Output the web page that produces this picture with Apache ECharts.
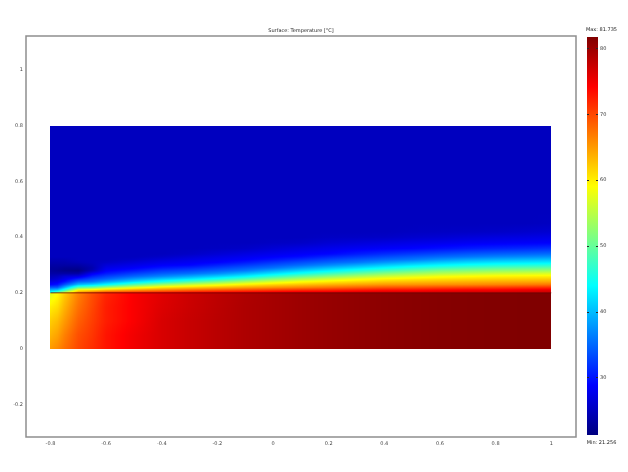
<!DOCTYPE html>
<html>
<head>
<meta charset="utf-8">
<script src="https://cdn.jsdelivr.net/npm/echarts@6/dist/echarts.min.js"></script>
<style>html,body{margin:0;padding:0;background:#fff}#c{width:628px;height:472px}</style>
</head>
<body>
<div id="c"></div>
<script>
// ---- data ----
const chartTitle = 'Surface: Temperature [°C]';
const tMin = 21.256, tMax = 81.735;
const xTicks = [-0.8, -0.6, -0.4, -0.2, 0, 0.2, 0.4, 0.6, 0.8, 1];
const yTicks = [-0.2, 0, 0.2, 0.4, 0.6, 0.8, 1];
const cbTicks = [30, 40, 50, 60, 70, 80];
const interfaceLine = [[-0.8, 0.2], [1, 0.2]];

// sample columns (x positions)
const colX = [-0.8, -0.775, -0.75, -0.7, -0.65, -0.6, -0.5, -0.4, -0.3, -0.2, -0.1, 0, 0.1, 0.2, 0.3, 0.4, 0.5, 0.6, 0.7, 0.8, 0.9, 1.0];

// lower (solid) region, sample heights and temperatures per column
const bottomY = [0, 0.05, 0.1, 0.15, 0.2];
const bottomTemps = [
  [65, 63.5, 62, 60, 57],
  [66, 64.5, 63, 61, 59],
  [67.5, 66.5, 65, 63.5, 62],
  [70, 69.5, 68.5, 67.5, 66.5],
  [71.5, 71, 70.5, 70, 69.5],
  [73, 73, 72.5, 72.5, 72],
  [75, 75, 74.5, 74.5, 74.5],
  [76.5, 76.5, 76.5, 76.2, 76],
  [77.5, 77.5, 77.5, 77.3, 77.2],
  [78.3, 78.3, 78.3, 78.2, 78.1],
  [79, 79, 79, 79, 78.9],
  [79.5, 79.5, 79.5, 79.5, 79.5],
  [80, 80, 80, 80, 80],
  [80.4, 80.4, 80.4, 80.4, 80.4],
  [80.7, 80.7, 80.7, 80.7, 80.7],
  [81, 81, 81, 81, 81],
  [81.2, 81.2, 81.2, 81.2, 81.2],
  [81.4, 81.4, 81.4, 81.4, 81.4],
  [81.5, 81.5, 81.5, 81.5, 81.5],
  [81.6, 81.6, 81.6, 81.6, 81.6],
  [81.7, 81.7, 81.7, 81.7, 81.7],
  [81.7, 81.7, 81.7, 81.7, 81.7]
];

// upper (fluid) region, sample heights and temperatures per column
const topY = [0.2, 0.21, 0.22, 0.23, 0.24, 0.25, 0.26, 0.27, 0.28, 0.29, 0.30, 0.31, 0.32, 0.33, 0.34, 0.36, 0.38, 0.40, 0.42, 0.45, 0.50, 0.60, 0.80];
const topTemps = [
  [46, 40, 34, 29, 27.3, 25.5, 24.5, 23.5, 23, 23, 23.5, 24, 24.5, 25, 25, 25, 25, 25, 25, 25, 25, 25, 25],
  [52, 41, 34.2, 29.9, 27.8, 26.3, 25, 23.5, 22.5, 23, 23.5, 24, 24.5, 25, 25, 25, 25, 25, 25, 25, 25, 25, 25],
  [58, 46.7, 39.2, 33.7, 29.8, 27.8, 26.3, 23.5, 22, 22.5, 23.5, 24, 24.5, 25, 25, 25, 25, 25, 25, 25, 25, 25, 25],
  [66, 60, 49, 40, 35, 31, 27, 23.5, 21.5, 22.5, 23.5, 24.5, 25, 25, 25, 25, 25, 25, 25, 25, 25, 25, 25],
  [69, 61.3, 50.4, 41.7, 36, 33.3, 30.6, 28, 24.5, 24, 24.5, 25, 25, 25, 25, 25, 25, 25, 25, 25, 25, 25, 25],
  [72, 63, 53.4, 44, 38.7, 34.8, 32.5, 30.2, 28.5, 27.5, 26.5, 25.5, 25, 25, 25, 25, 25, 25, 25, 25, 25, 25, 25],
  [73, 65.2, 57.3, 49, 42.3, 38.1, 34.8, 32.5, 30.2, 28.5, 27.5, 26.5, 25.5, 25, 25, 25, 25, 25, 25, 25, 25, 25, 25],
  [74, 66.7, 60.3, 53, 45.5, 40.8, 36.8, 34.3, 32.2, 30.1, 28.5, 27.5, 26.5, 25.5, 25, 25, 25, 25, 25, 25, 25, 25, 25],
  [75, 68.1, 61.9, 55.6, 48.8, 42.8, 38.8, 35.4, 33.2, 31.1, 29, 28.1, 27.3, 26.4, 25.5, 25, 25, 25, 25, 25, 25, 25, 25],
  [75.5, 69.2, 63.3, 57.8, 51.5, 45.3, 41, 37.1, 34.6, 32.6, 30.6, 28.8, 28, 27.2, 26.3, 25.2, 25, 25, 25, 25, 25, 25, 25],
  [76, 70.1, 64.6, 59.9, 54.4, 48.6, 43.3, 39.6, 36, 34.1, 32.1, 30.2, 28.7, 27.9, 27.1, 25.5, 25, 25, 25, 25, 25, 25, 25],
  [76.5, 71, 65.6, 61.5, 56.9, 51.8, 46.6, 42.3, 38.8, 35.6, 33.7, 31.8, 29.9, 28.6, 27.8, 26.3, 25.3, 25, 25, 25, 25, 25, 25],
  [77, 71.8, 66.5, 62.7, 59, 54.3, 49.6, 44.9, 41.3, 38, 35.2, 33.3, 31.3, 29.4, 28.4, 27, 25.5, 25, 25, 25, 25, 25, 25],
  [77, 72.2, 67.4, 63.7, 60.3, 56.4, 51.9, 47.5, 43.4, 40.2, 37, 34.7, 32.8, 30.9, 29, 27.6, 26.2, 25.3, 25, 25, 25, 25, 25],
  [77.5, 72.9, 68.3, 64.5, 61.4, 58.2, 54, 49.8, 45.7, 42.1, 38.9, 35.8, 34, 32.1, 30.3, 28.1, 26.6, 25.4, 25, 25, 25, 25, 25],
  [77.5, 73.6, 69.1, 65.2, 62.4, 59.6, 55.8, 51.9, 47.9, 44, 40.8, 37.6, 35.1, 33.2, 31.4, 28.5, 27, 25.5, 25, 25, 25, 25, 25],
  [77.5, 73.7, 69.4, 65.5, 62.9, 60.3, 57.1, 53.4, 49.6, 45.9, 42.4, 39.2, 36, 34.2, 32.3, 28.9, 27.4, 25.9, 25.2, 25, 25, 25, 25],
  [77.5, 74.2, 69.9, 65.8, 63.3, 60.9, 58.3, 54.6, 51.3, 47.3, 43.7, 40.6, 37.5, 35.1, 33.2, 29.6, 27.7, 26.2, 25.3, 25, 25, 25, 25],
  [77.5, 74.7, 70.3, 66, 63.7, 61.3, 59, 55.4, 51.9, 48.3, 44.7, 41.6, 38.7, 35.8, 34, 30.3, 28.1, 26.6, 25.4, 25, 25, 25, 25],
  [77.5, 74.8, 70.6, 66.4, 64, 61.7, 59.5, 56.1, 52.6, 49, 45.4, 42.3, 39.4, 36.6, 34.5, 30.8, 28.3, 26.9, 25.5, 25, 25, 25, 25],
  [77.5, 75.3, 71.1, 66.8, 64.2, 61.9, 59.7, 56.5, 52.9, 49.4, 45.8, 42.6, 39.9, 37.1, 34.9, 31.2, 28.5, 27.1, 25.8, 25, 25, 25, 25],
  [77.5, 75.8, 71.5, 67.3, 64.4, 62.2, 59.9, 56.9, 53.3, 49.7, 46.1, 42.9, 40.3, 37.6, 35.3, 31.7, 28.7, 27.4, 26.1, 25.2, 25, 25, 25]
];

// ---- rendering ----
function jet(T) {
  const t = Math.max(0, Math.min(1, (T - tMin) / (tMax - tMin)));
  const c = v => Math.round(255 * Math.max(0, Math.min(1, v)));
  return 'rgb(' + c(1.5 - Math.abs(4 * t - 3)) + ',' + c(1.5 - Math.abs(4 * t - 2)) + ',' + c(1.5 - Math.abs(4 * t - 1)) + ')';
}

// one shaded strip: vertical colour gradient through the sample temperatures
function shadedStrip(x, w, yTopPx, yBotPx, ys, ts) {
  const yLo = ys[0], yHi = ys[ys.length - 1];
  const stops = [];
  const sub = 4;
  for (let k = 0; k < ys.length - 1; k++) {
    for (let s = 0; s < sub; s++) {
      const f = s / sub;
      const yy = ys[k] + (ys[k + 1] - ys[k]) * f;
      const tt = ts[k] + (ts[k + 1] - ts[k]) * f;
      stops.push({ offset: (yHi - yy) / (yHi - yLo), color: jet(tt) });
    }
  }
  stops.push({ offset: 0, color: jet(ts[ts.length - 1]) });
  stops.sort((a, b) => a.offset - b.offset);
  return {
    type: 'rect',
    shape: { x: x, y: yTopPx, width: w, height: yBotPx - yTopPx },
    style: { fill: new echarts.graphic.LinearGradient(0, 0, 0, 1, stops) }
  };
}

function blendCol(table, j, f) {
  return table[j].map((v, k) => v + (table[j + 1][k] - v) * f);
}

const chart = echarts.init(document.getElementById('c'), null, { renderer: 'canvas' });
const FONT = '"DejaVu Sans", sans-serif';
const xMin = -0.888, xMax = 1.089, yMin = -0.317, yMax = 1.121;
const last = colX.length - 1;

const option = {
  animation: false,
  backgroundColor: '#ffffff',
  grid: [
    { left: 26, right: 52, top: 36, bottom: 35, show: true, borderColor: '#8e8e8e', borderWidth: 1.5, backgroundColor: 'transparent' },
    { left: 587, width: 11, top: 37, height: 398, show: false }
  ],
  xAxis: [
    { type: 'value', gridIndex: 0, min: xMin, max: xMax,
      axisLine: { show: false }, axisTick: { show: false }, splitLine: { show: false },
      axisLabel: { customValues: xTicks, fontSize: 5, fontFamily: FONT, color: '#444', margin: 4 } },
    { type: 'value', gridIndex: 1, min: 0, max: 1, show: false }
  ],
  yAxis: [
    { type: 'value', gridIndex: 0, min: yMin, max: yMax,
      axisLine: { show: false }, axisTick: { show: false }, splitLine: { show: false },
      axisLabel: { customValues: yTicks, fontSize: 5, fontFamily: FONT, color: '#444', margin: 3 } },
    { type: 'value', gridIndex: 1, min: tMin, max: tMax, position: 'right',
      axisLine: { show: false }, splitLine: { show: false }, axisTick: { show: false },
      axisLabel: { customValues: cbTicks, fontSize: 5, fontFamily: FONT, color: '#333', margin: 2 } }
  ],
  series: [
    {
      type: 'custom', xAxisIndex: 0, yAxisIndex: 0, silent: true,
      encode: { x: 0, y: 1 },
      data: [[colX[0], 0.4]],
      renderItem: function (params, api) {
        const a = api.coord([colX[0], 0]);
        const b = api.coord([colX[last], 0]);
        const pxPerX = (b[0] - a[0]) / (colX[last] - colX[0]);
        const pxL = Math.round(a[0]), pxR = Math.round(b[0]);
        const yPx = v => Math.round(api.coord([0, v])[1]);
        const yB0 = yPx(bottomY[0]), yB1 = yPx(bottomY[bottomY.length - 1]);
        const yT0 = yPx(topY[0]), yT1 = yPx(topY[topY.length - 1]);
        const children = [];
        const step = 1;
        for (let px = pxL; px < pxR; px += step) {
          const w = Math.min(step, pxR - px);
          const xv = colX[0] + (px + w / 2 - a[0]) / pxPerX;
          let j = 0;
          while (j < last - 1 && colX[j + 1] < xv) j++;
          const f = Math.max(0, Math.min(1, (xv - colX[j]) / (colX[j + 1] - colX[j])));
          children.push(shadedStrip(px, w, yB1, yB0, bottomY, blendCol(bottomTemps, j, f)));
          children.push(shadedStrip(px, w, yT1, yT0, topY, blendCol(topTemps, j, f)));
        }
        return { type: 'group', children: children };
      }
    },
    {
      type: 'line', xAxisIndex: 0, yAxisIndex: 0, silent: true,
      data: interfaceLine, symbol: 'none',
      lineStyle: { color: '#6a0000', width: 0.8 }
    },
    {
      type: 'custom', xAxisIndex: 1, yAxisIndex: 1, silent: true,
      encode: { x: 0, y: 1 },
      data: [[0.5, tMin], [0.5, tMax]],
      renderItem: function (params, api) {
        if (params.dataIndex !== 0) return null;
        const p0 = api.coord([0, tMax]);
        const p1 = api.coord([1, tMin]);
        const stops = [];
        const n = 32;
        for (let s = 0; s <= n; s++) {
          stops.push({ offset: s / n, color: jet(tMax - (tMax - tMin) * s / n) });
        }
        const children = [{
          type: 'rect',
          shape: { x: p0[0], y: p0[1], width: p1[0] - p0[0], height: p1[1] - p0[1] },
          style: { fill: new echarts.graphic.LinearGradient(0, 0, 0, 1, stops) }
        }];
        cbTicks.forEach(v => {
          const yy = Math.round(api.coord([0, v])[1]) + 0.5;
          children.push({ type: 'line', shape: { x1: p0[0], y1: yy, x2: p0[0] + 2, y2: yy }, style: { stroke: '#2a2a2a', lineWidth: 1 } });
          children.push({ type: 'line', shape: { x1: p1[0] - 2, y1: yy, x2: p1[0], y2: yy }, style: { stroke: '#2a2a2a', lineWidth: 1 } });
        });
        return { type: 'group', children: children };
      }
    }
  ],
  graphic: [
    { type: 'text', x: 301, y: 31, silent: true,
      style: { text: chartTitle, font: '5px ' + FONT, fill: '#222', align: 'center', verticalAlign: 'middle', textAlign: 'center', textVerticalAlign: 'middle' } },
    { type: 'text', x: 601.5, y: 30, silent: true,
      style: { text: 'Max: ' + tMax.toFixed(3), font: '5px ' + FONT, fill: '#222', align: 'center', verticalAlign: 'middle', textAlign: 'center', textVerticalAlign: 'middle' } },
    { type: 'text', x: 601.5, y: 443, silent: true,
      style: { text: 'Min: ' + tMin.toFixed(3), font: '5px ' + FONT, fill: '#222', align: 'center', verticalAlign: 'middle', textAlign: 'center', textVerticalAlign: 'middle' } }
  ]
};
chart.setOption(option);
</script>
</body>
</html>
